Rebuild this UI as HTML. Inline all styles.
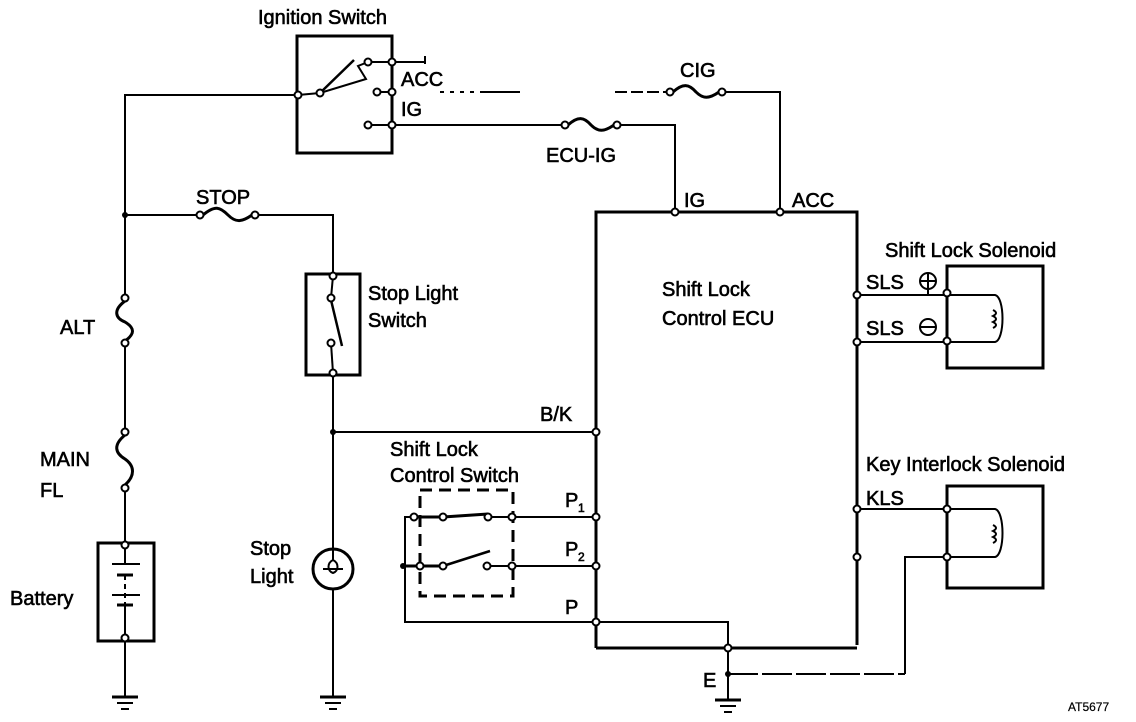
<!DOCTYPE html>
<html><head><meta charset="utf-8"><style>
html,body{margin:0;padding:0;background:#fff;}
svg{display:block;}
text{font-family:"Liberation Sans",sans-serif;font-size:20px;fill:#000;stroke:#000;stroke-width:0.6px;}
</style></head><body>
<svg width="1136" height="722" viewBox="0 0 1136 722" xmlns="http://www.w3.org/2000/svg">
<g fill="none" stroke="#000" stroke-width="2">
<polyline points="298,95 125,95 125,298"/>
<line x1="125" y1="343" x2="125" y2="432"/>
<line x1="125" y1="488" x2="125" y2="545"/>
<line x1="125" y1="638" x2="125" y2="697"/>
<path d="M125,301 C113,310 115,318 125,322 C135,328 135,334 125,341" stroke-width="3"/>
<path d="M125,435 C113,445 115,453 125,459 C135,466 135,476 125,485" stroke-width="3"/>
<rect x="98" y="543" width="56" height="98" stroke-width="3"/>
<line x1="112" y1="564" x2="140" y2="564"/><line x1="117" y1="575" x2="133" y2="575" stroke-width="3"/>
<line x1="125" y1="575" x2="125" y2="610" stroke-dasharray="5,4"/>
<line x1="112" y1="595" x2="140" y2="595"/><line x1="117" y1="605" x2="133" y2="605" stroke-width="3"/>
<line x1="125" y1="545" x2="125" y2="564"/><line x1="125" y1="605" x2="125" y2="638"/>
<g><line x1="112" y1="697" x2="138" y2="697" stroke-width="3"/><line x1="117" y1="703" x2="133" y2="703"/><line x1="121" y1="709" x2="129" y2="709"/></g>
<g><line x1="320" y1="697" x2="346" y2="697" stroke-width="3"/><line x1="325" y1="703" x2="341" y2="703"/><line x1="329" y1="709" x2="337" y2="709"/></g>
<g><line x1="715" y1="700" x2="741" y2="700" stroke-width="3"/><line x1="720" y1="706" x2="736" y2="706"/><line x1="724" y1="712" x2="732" y2="712"/></g>
<polyline points="125,215 200,215"/>
<path d="M203,215 C215,205 220,207 228,215 C236,223 242,222 252,215" stroke-width="3"/>
<polyline points="255,215 333,215 333,276"/>
<rect x="306" y="274" width="54" height="101" stroke-width="3"/>
<line x1="331" y1="300" x2="342" y2="346" stroke-width="2.5"/>
<line x1="333" y1="276" x2="331" y2="298"/>
<line x1="331" y1="343" x2="333" y2="373"/>
<line x1="333" y1="376" x2="333" y2="549"/>
<line x1="333" y1="432" x2="596" y2="432"/>
<circle cx="333" cy="569" r="20" stroke-width="3"/>
<path d="M333,549 L333,560 C327,563 327,571 333,573 C339,571 339,563 333,560 M323,569 L343,569"/>
<line x1="333" y1="589" x2="333" y2="697"/>
<rect x="297" y="36" width="95" height="117" stroke-width="3"/>
<polyline points="298,95 320,93 366,79 358,66 368,62"/>
<line x1="320" y1="93" x2="354" y2="60" stroke-width="2.5"/>
<polyline points="368,62 392,62 425,62"/><line x1="425" y1="56" x2="425" y2="64"/>
<line x1="377" y1="92" x2="392" y2="92"/>
<line x1="368" y1="125" x2="392" y2="125"/>
<line x1="392" y1="36" x2="392" y2="153" stroke-width="3"/>
<line x1="392" y1="125" x2="565" y2="125"/>
<path d="M568,125 C578,116 584,117 591,125 C598,132 604,132 614,125" stroke-width="3"/>
<polyline points="617,125 675,125 675,212"/>
<line x1="440" y1="92" x2="520" y2="92" stroke-dasharray="4,6"/>
<line x1="480" y1="92" x2="520" y2="92"/>
<line x1="615" y1="92" x2="670" y2="92" stroke-dasharray="12,4"/>
<path d="M673,92 C683,83 689,84 696,92 C703,99 709,99 719,92" stroke-width="3"/>
<polyline points="722,92 780,92 780,212"/>
<polyline points="596,648 596,212 857,212 857,645" stroke-width="3"/>
<polyline points="596,648 857,648" stroke-width="3"/>
<rect x="420" y="490" width="93" height="106" stroke-dasharray="12,7" stroke-width="3"/>
<polyline points="596,622 405,622 405,517 414,517"/>
<line x1="414" y1="517" x2="443" y2="517" stroke-width="3"/>
<line x1="443" y1="517" x2="488" y2="514" stroke-width="3"/>
<line x1="512" y1="517" x2="596" y2="517"/>
<line x1="488" y1="517" x2="512" y2="517"/>
<line x1="403" y1="566" x2="443" y2="566" stroke-width="3"/>
<line x1="443" y1="566" x2="490" y2="551" stroke-width="2.5"/>
<line x1="487" y1="566" x2="596" y2="566"/>
<polyline points="596,622 728,622 728,700"/>
<line x1="728" y1="674" x2="905" y2="674" stroke-dasharray="30,4"/>
<polyline points="905,674 905,557 947,557"/>
<line x1="857" y1="295" x2="947" y2="295"/><line x1="857" y1="342" x2="947" y2="342"/>
<rect x="947" y="266" width="96" height="102" stroke-width="3"/>
<path d="M947,295 L995,295 C1005,297 1005,340 995,342 L947,342"/>
<path d="M993,310 q6,3 0,6 q6,3 0,6 q6,3 0,6" stroke-width="2"/>
<line x1="857" y1="509" x2="947" y2="509"/>
<rect x="947" y="486" width="96" height="102" stroke-width="3"/>
<path d="M947,509 L995,509 C1005,511 1005,555 995,557 L947,557"/>
<path d="M993,525 q6,3 0,6 q6,3 0,6 q6,3 0,6" stroke-width="2"/>
<circle cx="928" cy="281" r="8"/><line x1="920" y1="281" x2="936" y2="281"/><line x1="928" y1="273" x2="928" y2="295"/>
<circle cx="928" cy="327" r="8"/><line x1="920" y1="327" x2="936" y2="327"/>
</g>
<g fill="#fff" stroke="#000" stroke-width="2">
<circle cx="125" cy="298" r="3.5"/><circle cx="125" cy="343" r="3.5"/><circle cx="125" cy="432" r="3.5"/><circle cx="125" cy="488" r="3.5"/>
<circle cx="125" cy="545" r="3.5"/><circle cx="125" cy="638" r="3.5"/>
<circle cx="200" cy="215" r="3.5"/><circle cx="255" cy="215" r="3.5"/>
<circle cx="333" cy="276" r="3.5"/><circle cx="331" cy="298" r="3.5"/><circle cx="331" cy="343" r="3.5"/><circle cx="333" cy="373" r="3.5"/>
<circle cx="298" cy="95" r="3.5"/><circle cx="320" cy="93" r="3.5"/><circle cx="368" cy="62" r="3.5"/><circle cx="392" cy="62" r="3.5"/>
<circle cx="377" cy="92" r="3.5"/><circle cx="392" cy="92" r="3.5"/><circle cx="368" cy="125" r="3.5"/><circle cx="392" cy="125" r="3.5"/>
<circle cx="565" cy="125" r="3.5"/><circle cx="617" cy="125" r="3.5"/><circle cx="670" cy="92" r="3.5"/><circle cx="722" cy="92" r="3.5"/>
<circle cx="675" cy="212" r="3.5"/><circle cx="780" cy="212" r="3.5"/>
<circle cx="596" cy="432" r="3.5"/><circle cx="596" cy="517" r="3.5"/><circle cx="596" cy="566" r="3.5"/><circle cx="596" cy="622" r="3.5"/>
<circle cx="414" cy="517" r="3.5"/><circle cx="443" cy="517" r="3.5"/><circle cx="488" cy="517" r="3.5"/><circle cx="512" cy="517" r="3.5"/>
<circle cx="420" cy="566" r="3.5"/><circle cx="443" cy="566" r="3.5"/><circle cx="487" cy="566" r="3.5"/><circle cx="512" cy="566" r="3.5"/>
<circle cx="728" cy="648" r="3.5"/>
<circle cx="857" cy="295" r="3.5"/><circle cx="857" cy="342" r="3.5"/><circle cx="857" cy="509" r="3.5"/><circle cx="857" cy="557" r="3.5"/>
<circle cx="947" cy="293" r="3.5"/><circle cx="947" cy="341" r="3.5"/><circle cx="947" cy="509" r="3.5"/><circle cx="947" cy="557" r="3.5"/>
</g>
<g fill="#000"><circle cx="125" cy="215" r="3"/><circle cx="333" cy="432" r="3"/><circle cx="403" cy="566" r="3"/><circle cx="728" cy="674" r="3"/></g>
<text x="258" y="24">Ignition Switch</text>
<text x="401" y="86">ACC</text><text x="401" y="116">IG</text>
<text x="680" y="77">CIG</text><text x="546" y="162">ECU-IG</text>
<text x="684" y="207">IG</text><text x="792" y="207">ACC</text>
<text x="196" y="204">STOP</text>
<text x="368" y="300">Stop Light</text><text x="368" y="327">Switch</text>
<text x="662" y="296">Shift Lock</text><text x="662" y="325">Control ECU</text>
<text x="885" y="257">Shift Lock Solenoid</text>
<text x="866" y="289">SLS</text><text x="866" y="335">SLS</text>
<text x="540" y="421">B/K</text>
<text x="390" y="456">Shift Lock</text><text x="390" y="482">Control Switch</text>
<text x="565" y="507">P</text><text x="578" y="512" style="font-size:12px">1</text>
<text x="565" y="556">P</text><text x="578" y="561" style="font-size:12px">2</text>
<text x="565" y="614">P</text>
<text x="866" y="471">Key Interlock Solenoid</text>
<text x="866" y="505">KLS</text>
<text x="60" y="334">ALT</text><text x="40" y="466">MAIN</text><text x="40" y="497">FL</text>
<text x="10" y="605">Battery</text>
<text x="250" y="555">Stop</text><text x="250" y="583">Light</text>
<text x="703" y="687">E</text>
<text x="1068" y="711" style="font-size:12px;stroke-width:0.2px">AT5677</text>
</svg>
</body></html>
